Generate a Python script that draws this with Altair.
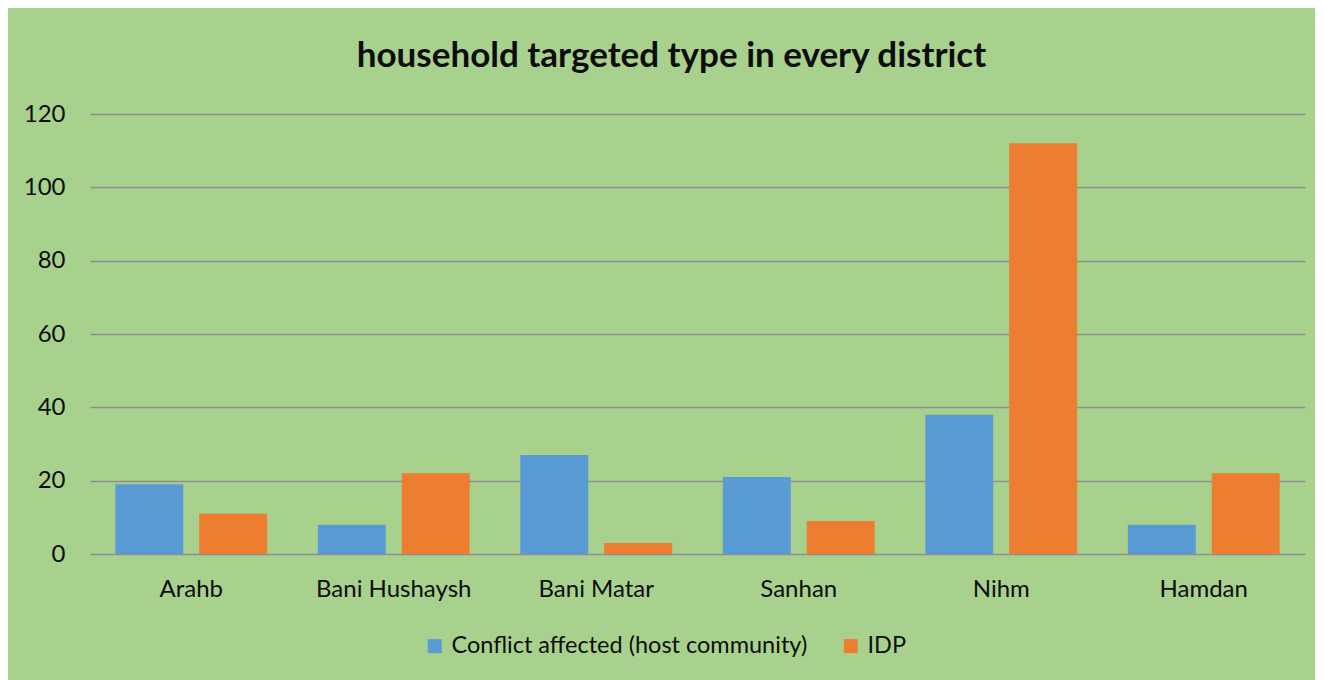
import altair as alt
import pandas as pd

districts = ["Arahb", "Bani Hushaysh", "Bani Matar", "Sanhan", "Nihm", "Hamdan"]
conflict_affected = [19, 8, 27, 21, 38, 8]
idp = [11, 22, 3, 9, 112, 22]
series_names = ["Conflict affected (host community)", "IDP"]
series_colors = ["#5B9BD5", "#ED7D31"]
y_ticks = [0, 20, 40, 60, 80, 100, 120]
title_text = "household targeted type in every district"

rows = []
for d, c, i in zip(districts, conflict_affected, idp):
    rows.append({"district": d, "type": series_names[0], "value": c})
    rows.append({"district": d, "type": series_names[1], "value": i})
df = pd.DataFrame(rows)

FONT = "Lato"
TXT = "#0d0d0d"
GRID = "#8f8f8f"

chart = alt.Chart(df).mark_bar().encode(
    x=alt.X(
        "district:N",
        sort=districts,
        scale=alt.Scale(paddingInner=0.25, paddingOuter=0.125),
        axis=alt.Axis(
            title=None, labelAngle=0, domain=False, ticks=False, tickSize=0,
            grid=False, labelPadding=23, labelFontSize=24, labelColor=TXT,
            labelFont=FONT,
        ),
    ),
    xOffset=alt.XOffset(
        "type:N", sort=series_names,
        scale=alt.Scale(paddingInner=0.19, paddingOuter=0),
    ),
    y=alt.Y(
        "value:Q",
        scale=alt.Scale(domain=[0, 120], nice=False),
        axis=alt.Axis(
            values=y_ticks, title=None, domain=False, ticks=False, tickSize=0,
            gridColor=GRID, gridWidth=1.5, gridOpacity=1,
            labelPadding=25, labelFontSize=24, labelColor=TXT, labelFont=FONT,
        ),
    ),
    color=alt.Color(
        "type:N",
        sort=series_names,
        scale=alt.Scale(domain=series_names, range=series_colors),
        legend=alt.Legend(
            title=None, orient="none", direction="horizontal",
            legendX=333, legendY=520, symbolType="square", symbolSize=196,
            symbolStrokeWidth=0, labelFontSize=23.5, labelFont=FONT,
            labelColor=TXT, labelLimit=600, labelOffset=5, columnPadding=31,
        ),
    ),
).properties(
    width=1215,
    height=440,
    title=alt.Title(
        title_text, fontSize=35, font=FONT, fontWeight="bold", color=TXT,
        anchor="middle", offset=28, dx=-26,
    ),
    background="#A9D18E",
    padding={"left": 82, "top": 106, "right": 10, "bottom": 126},
    autosize=alt.AutoSizeParams(type="none"),
).configure_view(stroke=None)

chart.save("out.html", embed_options={"renderer": "svg", "actions": False})
